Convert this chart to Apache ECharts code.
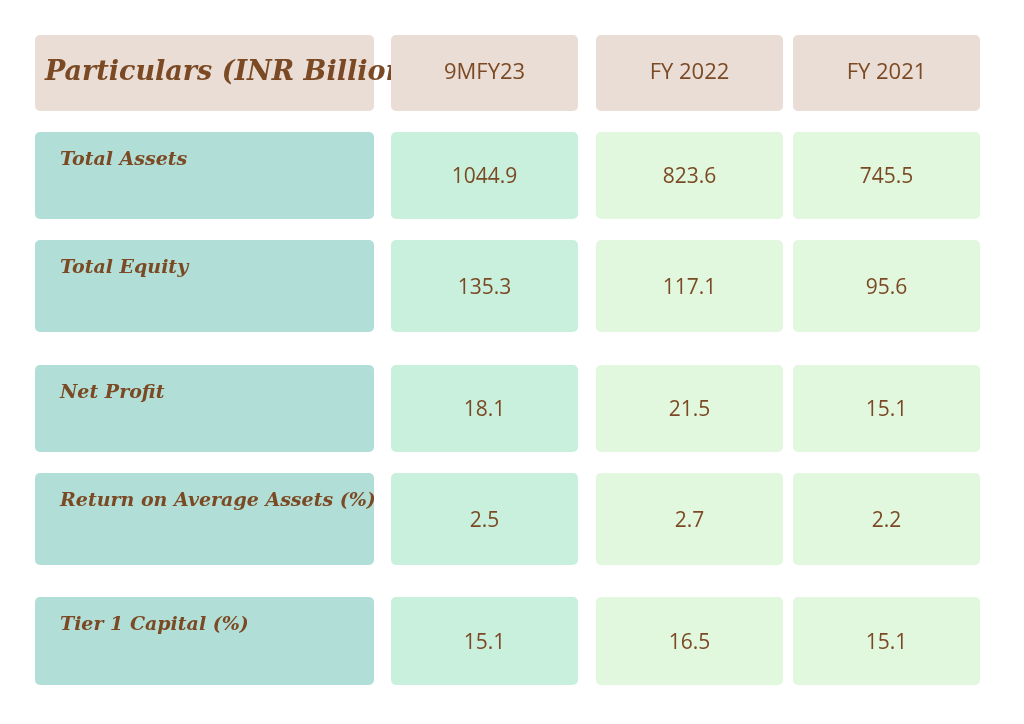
<!DOCTYPE html>
<html>
<head>
<meta charset="utf-8">
<script src="https://cdn.jsdelivr.net/npm/echarts@6/dist/echarts.min.js"></script>
<style>html,body{margin:0;padding:0;background:#fff}#main{width:1024px;height:724px}</style>
</head>
<body>
<div id="main"></div>
<script>
const headers = ['Particulars (INR Billion)', '9MFY23', 'FY 2022', 'FY 2021']
const rowLabels = ['Total Assets', 'Total Equity', 'Net Profit', 'Return on Average Assets (%)', 'Tier 1 Capital (%)']
const col9MFY23 = ['1044.9', '135.3', '18.1', '2.5', '15.1']
const colFY2022 = ['823.6', '117.1', '21.5', '2.7', '16.5']
const colFY2021 = ['745.5', '95.6', '15.1', '2.2', '15.1']

// layout
const colX = [35, 391, 596, 793]
const colW = [339, 187, 187, 187]
const rowY = [35, 132, 240, 365, 473, 597]
const rowH = [76, 87, 92, 87, 92, 88]
const fills = ['#b1dfd7', '#c8f0dd', '#e1f8df', '#e1f8df']
const headFill = '#e9ddd5'
const brown = '#7b4a24'
const script = '"DejaVu Serif", serif'

const cells = []
headers.forEach((h, c) => cells.push([0, c, h]))
rowLabels.forEach((l, r) => {
  cells.push([r + 1, 0, l])
  cells.push([r + 1, 1, col9MFY23[r]])
  cells.push([r + 1, 2, colFY2022[r]])
  cells.push([r + 1, 3, colFY2021[r]])
})

function renderItem(params, api) {
  const r = api.value(0), c = api.value(1)
  const txt = cells[params.dataIndex][2]
  const x = colX[c], y = rowY[r], w = colW[c], h = rowH[r]
  const fill = r === 0 ? headFill : fills[c]
  let text
  if (r === 0 && c === 0) {
    text = {type: 'text', style: {x: x + 10, y: y + h / 2, text: txt, fill: brown,
      font: 'italic bold 27px ' + script, textVerticalAlign: 'middle'}}
  } else if (r === 0) {
    text = {type: 'text', style: {x: x + w / 2, y: y + h / 2, text: txt, fill: brown,
      font: '22px "Open Sans", sans-serif', textAlign: 'center', textVerticalAlign: 'middle'}}
  } else if (c === 0) {
    text = {type: 'text', style: {x: x + 25, y: y + 28, text: txt, fill: brown,
      font: 'italic bold 19px ' + script, textVerticalAlign: 'middle'}}
  } else {
    text = {type: 'text', style: {x: x + w / 2, y: y + h / 2 + 2, text: txt, fill: brown,
      font: '21px "Open Sans", sans-serif', textAlign: 'center', textVerticalAlign: 'middle'}}
  }
  return {type: 'group', children: [
    {type: 'rect', shape: {x: x, y: y, width: w, height: h, r: 5}, style: {fill: fill}},
    text
  ]}
}

const chart = echarts.init(document.getElementById('main'))
chart.setOption({
  backgroundColor: '#ffffff',
  animation: false,
  series: [{
    type: 'custom',
    coordinateSystem: 'none',
    renderItem: renderItem,
    data: cells.map(d => [d[0], d[1]])
  }]
})
</script>
</body>
</html>
